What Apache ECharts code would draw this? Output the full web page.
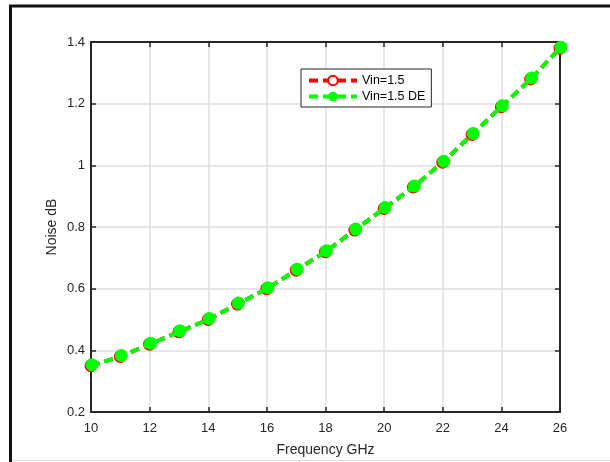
<!DOCTYPE html>
<html>
<head>
    <meta charset="utf-8" />
    <title></title>
    <script src="https://cdn.jsdelivr.net/npm/echarts@6/dist/echarts.min.js"></script>
    <style>
        html, body {
            width: 100%;
            height: 100%;
            margin: 0px;
            padding: 0px;
            background: #fff;
        }
        #main {
            width: 610px;
            height: 462px;
        }
    </style>
</head>
<body>
    <div id="main"></div>
<script type="text/javascript">
    var freq = [10, 11, 12, 13, 14, 15, 16, 17, 18, 19, 20, 21, 22, 23, 24, 25, 26];
    var noiseVin = [0.35, 0.38, 0.42, 0.46, 0.50, 0.55, 0.60, 0.66, 0.72, 0.79, 0.86, 0.93, 1.01, 1.10, 1.19, 1.28, 1.38];
    var noiseVinDE = [0.35, 0.38, 0.42, 0.46, 0.50, 0.55, 0.60, 0.66, 0.72, 0.79, 0.86, 0.93, 1.01, 1.10, 1.19, 1.28, 1.38];
    var seriesNames = ['Vin=1.5', 'Vin=1.5 DE'];

    function pairs(xs, ys) {
        return xs.map(function (x, i) { return [x, ys[i]]; });
    }

    var axisColor = '#262626';
    var myChart = echarts.init(document.getElementById('main'));

    myChart.setOption({
        animation: false,
        textStyle: { fontFamily: 'Liberation Sans, Arial, sans-serif' },
        graphic: [
            // figure frame (left and top edges)
            { type: 'line', shape: { x1: 10.5, y1: 6, x2: 10.5, y2: 462 }, style: { stroke: '#111', lineWidth: 3 } },
            { type: 'line', shape: { x1: 9, y1: 6, x2: 610, y2: 6 }, style: { stroke: '#111', lineWidth: 3 } },
            { type: 'line', shape: { x1: 12, y1: 460.5, x2: 610, y2: 460.5 }, style: { stroke: '#ddd', lineWidth: 1 } }
        ],
        grid: { left: 91, right: 50, top: 42, bottom: 50 },
        legend: {
            data: seriesNames,
            orient: 'vertical',
            left: 301,
            top: 69,
            padding: [5, 6, 4, 6],
            itemGap: 3,
            itemWidth: 48,
            itemHeight: 12,
            backgroundColor: '#fff',
            borderColor: axisColor,
            borderWidth: 1,
            borderRadius: 0,
            lineStyle: { width: 4 },
            textStyle: { color: '#000', fontSize: 12.5 }
        },
        xAxis: [{
            type: 'value',
            min: 10, max: 26, interval: 2,
            name: 'Frequency GHz',
            nameLocation: 'middle',
            nameGap: 31,
            nameTextStyle: { fontSize: 14, color: '#262626' },
            axisLine: { show: true, onZero: false, lineStyle: { color: axisColor, width: 2 } },
            axisTick: { show: true, inside: true, length: 5, lineStyle: { color: axisColor, width: 1.5 } },
            axisLabel: { color: '#262626', fontSize: 13, margin: 10 },
            splitLine: { show: true, lineStyle: { color: '#dedede', width: 1.5 } }
        }, {
            type: 'value',
            position: 'top',
            min: 10, max: 26, interval: 2,
            axisLine: { show: true, onZero: false, lineStyle: { color: axisColor, width: 2 } },
            axisTick: { show: true, inside: true, length: 5, lineStyle: { color: axisColor, width: 1.5 } },
            axisLabel: { show: false },
            splitLine: { show: false }
        }],
        yAxis: [{
            type: 'value',
            min: 0.2, max: 1.4, interval: 0.2,
            name: 'Noise dB',
            nameLocation: 'middle',
            nameGap: 32,
            nameMoveOverlap: false,
            nameTextStyle: { fontSize: 14, color: '#262626' },
            axisLine: { show: true, onZero: false, lineStyle: { color: axisColor, width: 2 } },
            axisTick: { show: true, inside: true, length: 5, lineStyle: { color: axisColor, width: 1.5 } },
            axisLabel: {
                color: '#262626', fontSize: 13, margin: 6,
                formatter: function (v) { return String(Math.round(v * 10) / 10); }
            },
            splitLine: { show: true, lineStyle: { color: '#dedede', width: 1.5 } }
        }, {
            type: 'value',
            position: 'right',
            min: 0.2, max: 1.4, interval: 0.2,
            axisLine: { show: true, onZero: false, lineStyle: { color: axisColor, width: 2 } },
            axisTick: { show: true, inside: true, length: 5, lineStyle: { color: axisColor, width: 1.5 } },
            axisLabel: { show: false },
            splitLine: { show: false }
        }],
        series: [{
            name: seriesNames[0],
            type: 'line',
            data: pairs(freq, noiseVin),
            symbol: 'emptyCircle',
            symbolSize: 11,
            color: '#ff0000',
            lineStyle: { color: '#ff0000', width: 4, type: [9, 5] },
            itemStyle: { color: '#ff0000', borderColor: '#ff0000', borderWidth: 3 },
            z: 2
        }, {
            name: seriesNames[1],
            type: 'line',
            data: pairs(freq, noiseVinDE),
            symbol: 'circle',
            symbolSize: 13,
            symbolOffset: [1, -1],
            color: '#00ff00',
            lineStyle: { color: '#00ff00', width: 4, type: [9, 5] },
            itemStyle: { color: '#00ff00' },
            z: 3
        }]
    });

    window.addEventListener('resize', function () {
        myChart.resize();
    });
</script>
</body>
</html>
